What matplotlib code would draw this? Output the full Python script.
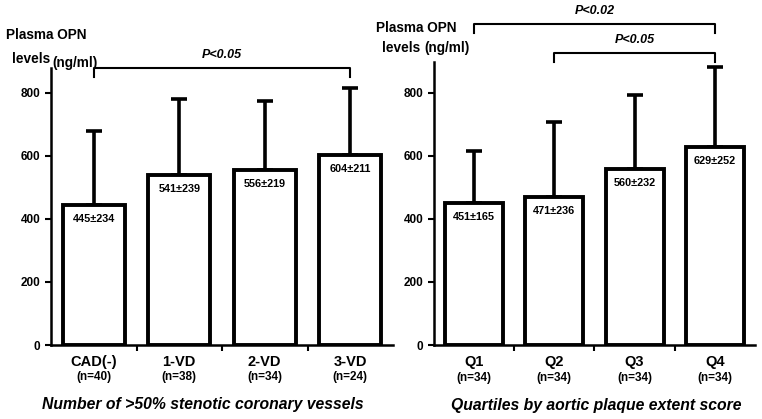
import matplotlib.pyplot as plt
import matplotlib.transforms as mtransforms

plt.rcParams['font.family'] = ['Liberation Sans', 'DejaVu Sans']
plt.rcParams['font.weight'] = 'bold'

# left panel: number of stenotic vessels
left_cats = ['CAD(-)', '1-VD', '2-VD', '3-VD']
left_n = ['(n=40)', '(n=38)', '(n=34)', '(n=24)']
left_mean = [445, 541, 556, 604]
left_sd = [234, 239, 219, 211]

# right panel: aortic plaque quartiles
right_cats = ['Q1', 'Q2', 'Q3', 'Q4']
right_n = ['(n=34)', '(n=34)', '(n=34)', '(n=34)']
right_mean = [451, 471, 560, 629]
right_sd = [165, 236, 232, 252]

W, H = 762, 419
fig = plt.figure(figsize=(W / 100, H / 100), dpi=100)


def px_axes(x0, x1, y_top, y_bot):
    return fig.add_axes([x0 / W, (H - y_bot) / H, (x1 - x0) / W, (y_bot - y_top) / H])


def ftext(x, y, s, **kw):
    # text placed in figure pixels, measured from the top-left corner
    kw.setdefault('fontsize', 9.8)
    kw.setdefault('fontweight', 'bold')
    fig.text(x / W, 1 - y / H, s, va='center', **kw)


def draw_panel(ax, cats, ns, means, sds, ytop, xlabel, xlabel_pos):
    x = range(len(cats))
    ax.bar(x, means, width=0.72, color='white', edgecolor='black', linewidth=2.8, zorder=2)
    ax.errorbar(x, means, yerr=[[0] * len(sds), sds], fmt='none', ecolor='black',
                elinewidth=2.6, capsize=5.5, capthick=2.6, zorder=1)
    for i, (m, s) in enumerate(zip(means, sds)):
        ax.text(i, m - 45, f'{m}\u00b1{s}', ha='center', va='center', fontsize=7.8,
                fontweight='bold', zorder=3)
    ax.set_xlim(-0.5, 3.5)
    ax.set_ylim(0, ytop)
    ax.set_yticks([0, 200, 400, 600, 800])
    ax.set_yticklabels(['0', '200', '400', '600', '800'], fontsize=8.5, fontweight='bold')
    ax.set_xticks([0.5, 1.5, 2.5])
    ax.set_xticklabels([])
    ax.tick_params(axis='both', direction='out', width=1.5, length=4)
    for s in ['top', 'right']:
        ax.spines[s].set_visible(False)
    for s in ['left', 'bottom']:
        ax.spines[s].set_linewidth(1.8)
    trans = mtransforms.blended_transform_factory(ax.transData, ax.transAxes)
    for i, (c, n) in enumerate(zip(cats, ns)):
        ax.text(i, -0.06, c, transform=trans, ha='center', va='center', fontsize=10.5,
                fontweight='bold')
        ax.text(i, -0.115, n, transform=trans, ha='center', va='center', fontsize=8.5,
                fontweight='bold')
    ax.text(xlabel_pos, -0.215, xlabel, transform=trans, ha='center', va='center',
            fontsize=11.3, fontweight='bold', style='italic')


def bracket(ax, x0, x1, y, drop, label):
    ax.plot([x0, x0, x1, x1], [y - drop, y, y, y - drop], color='black', lw=1.5,
            clip_on=False)
    ax.text((x0 + x1) / 2, y + 22, label, ha='center', va='bottom', fontsize=9,
            fontweight='bold', style='italic', clip_on=False)


ax1 = px_axes(51, 393, 68, 345)
draw_panel(ax1, left_cats, left_n, left_mean, left_sd, 879,
           'Number of >50% stenotic coronary vessels', 1.27)
bracket(ax1, 0, 3, 880, 30, 'P<0.05')
ftext(46, 35, 'Plasma OPN', ha='center')
ftext(31, 59, 'levels', ha='center')
ftext(52, 63, '(ng/ml)', ha='left')

ax2 = px_axes(434, 755, 62, 345)
draw_panel(ax2, right_cats, right_n, right_mean, right_sd, 898,
           'Quartiles by aortic plaque extent score', 1.52)
bracket(ax2, 0, 3, 1020, 30, 'P<0.02')
bracket(ax2, 1, 3, 928, 30, 'P<0.05')
ftext(416, 28, 'Plasma OPN', ha='center')
ftext(401, 48, 'levels', ha='center')
ftext(424, 48, '(ng/ml)', ha='left')

fig.savefig('out.png', dpi=100)
